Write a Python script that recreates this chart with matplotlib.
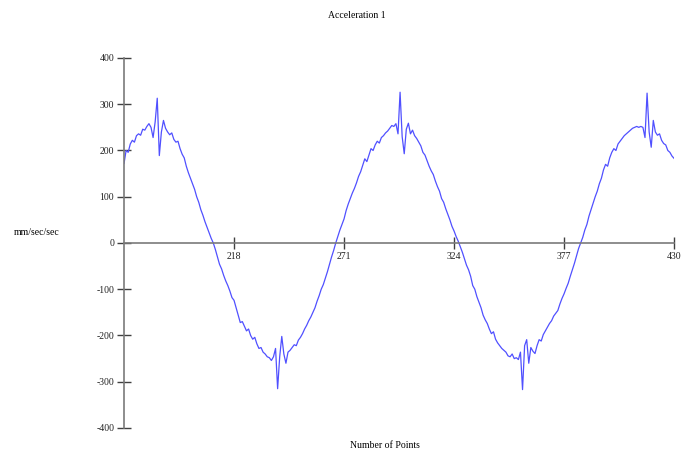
# coding=utf-8

import matplotlib
matplotlib.use('Agg')
import matplotlib.pyplot as plt

# 加速度采样数据（第165点到第430点）
x_start = 165
accel = [
    172, 200, 196, 214, 222, 218, 232, 236, 233, 246,
    244, 252, 258, 250, 228, 262, 313, 189, 240, 265,
    248, 240, 234, 238, 224, 218, 220, 204, 192, 184,
    166, 152, 140, 128, 116, 100, 88, 72, 60, 46,
    34, 22, 10, 0, -14, -30, -46, -56, -70, -82,
    -92, -104, -118, -124, -140, -156, -172, -170, -180, -190,
    -186, -200, -208, -204, -218, -228, -226, -236, -240, -246,
    -248, -254, -246, -228, -315, -246, -202, -240, -260, -236,
    -232, -226, -220, -222, -210, -204, -196, -186, -178, -168,
    -160, -150, -140, -126, -114, -100, -90, -76, -62, -46,
    -30, -16, 0, 14, 28, 40, 52, 70, 84, 96,
    108, 118, 130, 144, 154, 168, 182, 176, 190, 204,
    200, 212, 220, 216, 228, 232, 238, 242, 248, 254,
    252, 258, 236, 326, 230, 193, 246, 259, 236, 244,
    232, 226, 218, 210, 196, 190, 178, 166, 156, 148,
    134, 122, 112, 96, 88, 74, 62, 50, 36, 26,
    14, 4, -8, -20, -34, -48, -58, -72, -92, -100,
    -116, -128, -140, -156, -166, -174, -186, -196, -192, -208,
    -216, -222, -228, -232, -236, -244, -246, -240, -250, -248,
    -252, -236, -317, -222, -209, -260, -226, -234, -239, -222,
    -209, -212, -198, -190, -182, -174, -168, -158, -152, -146,
    -132, -120, -110, -98, -87, -72, -58, -44, -28, -12,
    0, 12, 28, 40, 58, 72, 86, 100, 112, 128,
    140, 158, 170, 166, 184, 196, 204, 200, 214, 220,
    226, 232, 236, 240, 244, 248, 250, 252, 250, 252,
    250, 228, 324, 240, 207, 265, 240, 233, 236, 222,
    215, 212, 200, 196, 188, 183,
]
points = list(range(x_start, x_start + len(accel)))

x_ticks = [218, 271, 324, 377, 430]
y_ticks = [-400, -300, -200, -100, 0, 100, 200, 300, 400]

plt.rcParams['font.family'] = ['Liberation Serif', 'DejaVu Serif']
plt.rcParams['font.size'] = 7
plt.rcParams['axes.unicode_minus'] = False

fig = plt.figure(figsize=(6.83, 4.53), dpi=100)
ax = fig.add_axes([0.1816, 0.0552, 0.8053, 0.8168])

ax.plot(points, accel, color='#5050ff', linewidth=0.9)

ax.set_xlim(x_start, 430)
ax.set_ylim(-400, 400)
ax.set_xticks(x_ticks)
ax.set_yticks(y_ticks)

# 坐标轴：x轴放在0处
ax.spines['top'].set_visible(False)
ax.spines['right'].set_visible(False)
ax.spines['bottom'].set_position(('data', 0))
for s in ('left', 'bottom'):
    ax.spines[s].set_color('#7a7a7a')
    ax.spines[s].set_linewidth(1.2)

ax.tick_params(axis='y', direction='inout', length=10, width=1,
               color='#404040', pad=2, labelcolor='#222222')
ax.tick_params(axis='x', direction='inout', length=9, width=1,
               color='#404040', pad=2, labelcolor='#222222')

fig.text(357 / 683, 1 - 16 / 453, 'Acceleration 1', ha='center', va='center', fontsize=7)
fig.text(14 / 683, 1 - 233 / 453, 'mm/sec/sec', ha='left', va='center', fontsize=7)
fig.text(385 / 683, 1 - 446 / 453, 'Number of Points', ha='center', va='center', fontsize=7)

fig.savefig('out.png', dpi=100)
